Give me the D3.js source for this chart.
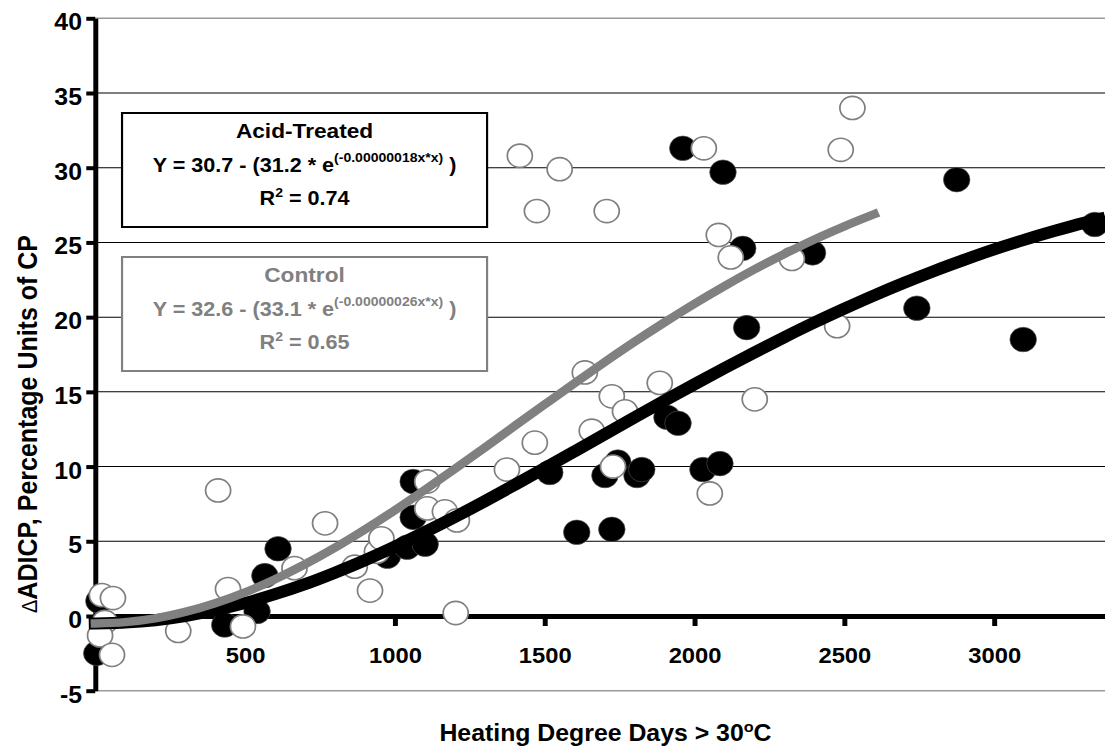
<!DOCTYPE html>
<html>
<head>
<meta charset="utf-8">
<script src="https://cdn.jsdelivr.net/npm/d3@7"></script>
<style>
  body { margin: 0; background: #fff; }
  text { font-family: "Liberation Sans", Arial, sans-serif; font-weight: bold; }
</style>
</head>
<body>
<div id="chart"></div>
<script>
//acid-treated samples (filled)
var acidX = [5, 12, 432, 540, 566, 610, 975, 1041, 1101, 1061, 1061, 1517, 1607, 1724, 1701, 1744, 1808, 1824, 1908, 1945, 2028, 2085, 1961, 2095, 2161, 2174, 2394, 2742, 2875, 3097, 3336],
    acidY = [-2.5, 1.0, -0.6, 0.3, 2.7, 4.5, 4.0, 4.6, 4.8, 6.6, 9.0, 9.6, 5.6, 5.8, 9.4, 10.3, 9.4, 9.8, 13.3, 12.9, 9.8, 10.2, 31.3, 29.7, 24.6, 19.3, 24.3, 20.6, 29.2, 18.5, 26.2];

//control samples (open)
var controlX = [22, 59, 32, 16, 56, 277, 410, 443, 493, 665, 767, 866, 917, 940, 955, 1108, 1108, 1167, 1207, 1203, 1374, 1467, 1417, 1550, 1474, 1707, 1634, 1657, 1724, 1768, 1728, 1884, 2051, 2201, 2031, 2081, 2121, 2325, 2476, 2488, 2527],
    controlY = [1.4, 1.2, -0.4, -1.3, -2.6, -1.0, 8.4, 1.8, -0.7, 3.2, 6.2, 3.3, 1.7, 4.3, 5.2, 9.0, 7.2, 7.0, 6.4, 0.2, 9.8, 11.6, 30.8, 29.9, 27.1, 27.1, 16.3, 12.4, 14.7, 13.7, 10.0, 15.6, 8.2, 14.5, 31.3, 25.5, 24.0, 23.9, 19.4, 31.2, 34.0];

//fitted curves
var acidFitX = [0, 100, 200, 300, 400, 500, 600, 700, 800, 900, 1000, 1100, 1200, 1300, 1400, 1500, 1600, 1700, 1800, 1900, 2000, 2100, 2200, 2300, 2400, 2500, 2600, 2700, 2800, 2900, 3000, 3100, 3200, 3300, 3350],
    acidFitY = [-0.5, -0.44, -0.28, 0.0, 0.39, 0.87, 1.46, 2.13, 2.9, 3.73, 4.64, 5.61, 6.62, 7.68, 8.78, 9.89, 11.02, 12.16, 13.29, 14.41, 15.51, 16.59, 17.64, 18.66, 19.64, 20.57, 21.46, 22.3, 23.09, 23.83, 24.53, 25.17, 25.76, 26.31, 26.56];
var controlFitX = [0, 100, 200, 300, 400, 500, 600, 700, 800, 900, 1000, 1100, 1200, 1300, 1400, 1500, 1600, 1700, 1800, 1900, 2000, 2100, 2200, 2300, 2400, 2500, 2600],
    controlFitY = [-0.5, -0.41, -0.16, 0.27, 0.85, 1.58, 2.46, 3.46, 4.57, 5.79, 7.08, 8.44, 9.84, 11.27, 12.72, 14.16, 15.59, 16.99, 18.35, 19.65, 20.9, 22.08, 23.2, 24.23, 25.2, 26.08, 26.89];

var xTicks = [0, 500, 1000, 1500, 2000, 2500, 3000],
    yTicks = [-5, 0, 5, 10, 15, 20, 25, 30, 35, 40];

//picture is a little wider than tall, so draw in a narrower box and stretch
var stretch = 1.08,
    width = 1105,
    height = 751,
    vWidth = width / stretch;

var svg = d3.select("#chart")
    .append("svg")
        .attr("width", width)
        .attr("height", height)
        .attr("viewBox", "0 0 " + vWidth + " " + height)
        .attr("preserveAspectRatio", "none");

var x = d3.scaleLinear()
    .domain([0, 3370])
    .range([88.2, vWidth]);

var y = d3.scaleLinear()
    .domain([-5, 40])
    .range([690.7, 18.3]);

//gridlines
svg.append("g")
    .selectAll("line")
    .data(yTicks.filter(function(d) { return d > 0; }))
    .enter()
    .append("line")
        .attr("x1", x(0))
        .attr("x2", vWidth)
        .attr("y1", function(d) { return y(d); })
        .attr("y2", function(d) { return y(d); })
        .attr("stroke", function(d) { return d == 40 ? "#9a9a9a" : "#000"; })
        .attr("stroke-width", function(d) { return d == 40 ? 1.5 : 1; });
svg.append("line")  //bottom edge of plot area
    .attr("x1", x(0))
    .attr("x2", vWidth)
    .attr("y1", y(-5))
    .attr("y2", y(-5))
    .attr("stroke", "#9a9a9a")
    .attr("stroke-width", 1.5);

//equation boxes
function legendBox(top, color, name, eq, sup, r2) {
    var g = svg.append("g");
    var left = 113, right = 451, cx = (left + right) / 2;
    g.append("rect")
        .attr("x", left)
        .attr("y", top)
        .attr("width", right - left)
        .attr("height", 114)
        .attr("fill", "#fff")
        .attr("stroke", color)
        .attr("stroke-width", 2);
    g.append("text")
        .attr("x", cx)
        .attr("y", top + 25)
        .attr("text-anchor", "middle")
        .style("font-size", "21px")
        .attr("fill", color)
        .text(name);
    var t = g.append("text")
        .attr("x", cx)
        .attr("y", top + 59)
        .attr("text-anchor", "middle")
        .style("font-size", "20px")
        .attr("fill", color);
    t.append("tspan").text(eq);
    t.append("tspan").attr("dy", -10).style("font-size", "13px").text(sup);
    t.append("tspan").attr("dy", 10).text(" )");
    var r = g.append("text")
        .attr("x", cx)
        .attr("y", top + 92)
        .attr("text-anchor", "middle")
        .style("font-size", "20px")
        .attr("fill", color);
    r.append("tspan").text("R");
    r.append("tspan").attr("dy", -8).style("font-size", "13px").text("2");
    r.append("tspan").attr("dy", 8).text(" = " + r2);
}
legendBox(113, "#000", "Acid-Treated", "Y = 30.7 - (31.2 * e", "(-0.00000018x*x)", "0.74");
legendBox(257, "#808080", "Control", "Y = 32.6 - (33.1 * e", "(-0.00000026x*x)", "0.65");

//plain labels: no thousands comma, ascii minus
var plain = function(d) { return String(d); };

//y axis
var yAxis = svg.append("g")
    .attr("transform", "translate(" + x(0) + ",0)")
    .call(d3.axisLeft(y).tickValues(yTicks).tickFormat(plain).tickSize(8.3).tickPadding(4).tickSizeOuter(0));
yAxis.attr("font-family", null);
yAxis.select(".domain").attr("stroke-width", 4.6);
yAxis.selectAll(".tick line").attr("stroke-width", 4);
yAxis.selectAll(".tick text")
    .attr("dy", "0.5em")
    .style("font-size", "23px");

//x axis
var xAxis = svg.append("g")
    .attr("transform", "translate(0," + y(0) + ")")
    .call(d3.axisBottom(x).tickValues(xTicks).tickFormat(plain).tickSize(10).tickPadding(21).tickSizeOuter(0));
xAxis.attr("font-family", null);
xAxis.select(".domain").attr("stroke-width", 5);
xAxis.selectAll(".tick line").attr("stroke-width", 4.6);
xAxis.selectAll(".tick text")
    .style("font-size", "22px");

//axis titles
var xTitle = svg.append("text")
    .attr("x", (436 + 775) / 2 / stretch)
    .attr("y", 741)
    .attr("text-anchor", "middle")
    .style("font-size", "23px");
xTitle.append("tspan").text("Heating Degree Days > 30");
xTitle.append("tspan").attr("dy", -9).style("font-size", "15px").text("o");
xTitle.append("tspan").attr("dy", 9).text("C");

var yTitle = svg.append("text")
    .attr("transform", "translate(" + (37 / stretch) + ",424) rotate(-90)")
    .attr("text-anchor", "middle")
    .style("font-size", "25px");
yTitle.append("tspan").style("font-size", "20px").style("font-weight", "normal").text("\u0394");
yTitle.append("tspan").text("ADICP, Percentage Units of CP");

//points
var acid = acidX.map(function(d, i) { return [d, acidY[i]]; }),
    control = controlX.map(function(d, i) { return [d, controlY[i]]; });

svg.append("g")
    .selectAll("circle")
    .data(acid)
    .enter()
    .append("circle")
        .attr("cx", function(d) { return x(d[0]); })
        .attr("cy", function(d) { return y(d[1]); })
        .attr("r", 12.3)
        .attr("fill", "#000")
        .attr("stroke", "#555")
        .attr("stroke-width", 0.6);

svg.append("g")
    .selectAll("circle")
    .data(control)
    .enter()
    .append("circle")
        .attr("cx", function(d) { return x(d[0]); })
        .attr("cy", function(d) { return y(d[1]); })
        .attr("r", 11.6)
        .attr("fill", "#fff")
        .attr("stroke", "#7f7f7f")
        .attr("stroke-width", 1.6);

//fit lines
var line = d3.line()
    .x(function(d) { return x(d[0]); })
    .y(function(d) { return y(d[1]); })
    .curve(d3.curveMonotoneX);

svg.append("path")
    .datum(acidFitX.map(function(d, i) { return [d, acidFitY[i]]; }))
    .attr("d", line)
    .attr("fill", "none")
    .attr("stroke", "#000")
    .attr("stroke-width", 12)
    .attr("stroke-linecap", "square");

svg.append("path")
    .datum(controlFitX.map(function(d, i) { return [d, controlFitY[i]]; }))
    .attr("d", line)
    .attr("fill", "none")
    .attr("stroke", "#808080")
    .attr("stroke-width", 8.5)
    .attr("stroke-linecap", "square");
</script>
</body>
</html>
